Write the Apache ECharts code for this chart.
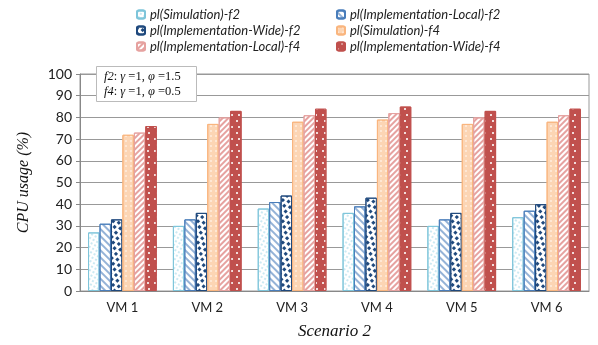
<!DOCTYPE html>
<html>
<head>
<meta charset="utf-8">
<script src="https://cdn.jsdelivr.net/npm/echarts@6/dist/echarts.min.js"></script>
<style>
  html, body { margin: 0; padding: 0; background: #fff; }
  #chart { width: 598px; height: 345px; }
</style>
</head>
<body>
<div id="chart"></div>
<script>
// values
const categories = ["VM 1", "VM 2", "VM 3", "VM 4", "VM 5", "VM 6"];
const simF2 = [27, 30, 38, 36, 30, 34];
const localF2 = [31, 33, 41, 39, 33, 37];
const wideF2 = [33, 36, 44, 43, 36, 40];
const simF4 = [72, 77, 78, 79, 77, 78];
const localF4 = [73, 80, 81, 82, 80, 81];
const wideF4 = [76, 83, 84, 85, 83, 84];
const yTicks = [0, 100, 10];

const names = [
  "pl(Simulation)-f2",
  "pl(Implementation-Local)-f2",
  "pl(Implementation-Wide)-f2",
  "pl(Simulation)-f4",
  "pl(Implementation-Local)-f4",
  "pl(Implementation-Wide)-f4"
];

const looks = [
  { color: "#ffffff", border: "#7ec5da",
    decal: { symbol: "rect", color: "#a9dbea", dashArrayX: [2, 2], dashArrayY: [2, 2], symbolSize: 0.8 } },
  { color: "#ffffff", border: "#4a7ebb",
    decal: { symbol: "rect", color: "#4f81bd", dashArrayX: [1, 0], dashArrayY: [2, 2.5], rotation: Math.PI / 4 } },
  { color: "#ffffff", border: "#1f497d",
    decal: { symbol: "rect", color: "#1f497d", dashArrayX: [[3, 3], [0, 3, 3, 0]], dashArrayY: [3, 2], symbolSize: 1 } },
  { color: "#fcd5b4", border: "#f9b57e",
    decal: { symbol: "rect", color: "#fff3ea", dashArrayX: [1.5, 2.5], dashArrayY: [1.5, 2.5], symbolSize: 0.8 } },
  { color: "#ffffff", border: "#e6a2a0",
    decal: { symbol: "rect", color: "#e6a2a0", dashArrayX: [1, 0], dashArrayY: [2, 2], rotation: -Math.PI / 4 } },
  { color: "#c0504d", border: "#c0504d",
    decal: { symbol: "rect", color: "#f2dcdb", dashArrayX: [[2, 5], [0, 3.5, 2, 1.5]], dashArrayY: [2, 4], symbolSize: 1 } }
];

const values = [simF2, localF2, wideF2, simF4, localF4, wideF4];

const series = values.map((data, i) => ({
  name: names[i],
  type: "bar",
  data: data,
  barGap: "0%",
  barCategoryGap: "19%",
  itemStyle: {
    color: looks[i].color,
    borderColor: looks[i].border,
    borderWidth: 1,
    decal: looks[i].decal
  }
}));

const legendText = { fontFamily: "Lato", fontStyle: "italic", fontSize: 13, color: "#222" };

const option = {
  animation: false,
  aria: { enabled: true, decal: { show: true } },
  legend: [
    {
      orient: "vertical", left: 131, top: 3, itemWidth: 8, itemHeight: 8, itemGap: 3,
      data: [names[0], names[2], names[4]], textStyle: legendText
    },
    {
      orient: "vertical", left: 331, top: 3, itemWidth: 8, itemHeight: 8, itemGap: 3,
      data: [names[1], names[3], names[5]], textStyle: legendText
    }
  ],
  grid: {
    left: 80, right: 9, top: 74, bottom: 54,
    show: true, borderColor: "#999", borderWidth: 1
  },
  xAxis: {
    type: "category",
    data: categories,
    name: "Scenario 2",
    nameLocation: "middle",
    nameGap: 32,
    nameTextStyle: { fontFamily: "Liberation Serif", fontStyle: "italic", fontSize: 17, color: "#111" },
    axisLine: { lineStyle: { color: "#888" } },
    axisTick: { length: 4, lineStyle: { color: "#888" } },
    axisLabel: { fontFamily: "Lato", fontSize: 13, color: "#222", margin: 10 }
  },
  yAxis: {
    type: "value",
    min: yTicks[0],
    max: yTicks[1],
    interval: yTicks[2],
    name: "CPU usage (%)",
    nameLocation: "middle",
    nameGap: 48,
    nameTextStyle: { fontFamily: "Liberation Serif", fontStyle: "italic", fontSize: 16, color: "#111" },
    axisLine: { show: true, lineStyle: { color: "#888" } },
    axisTick: { show: true, length: 4, lineStyle: { color: "#888" } },
    axisLabel: { fontFamily: "Lato", fontSize: 14, color: "#222", margin: 8 },
    splitLine: { lineStyle: { color: "#999" } }
  },
  graphic: [
    {
      type: "rect",
      left: 96, top: 66,
      shape: { width: 100, height: 35 },
      style: { fill: "#fff", stroke: "#bbb", lineWidth: 1 },
      z: 100
    },
    {
      type: "text",
      left: 104, top: 69,
      z: 101,
      style: {
        text: "{i|f2}: {i|γ} =1, {i|φ} =1.5\n{i|f4}: {i|γ} =1, {i|φ} =0.5",
        font: "12.5px 'Liberation Serif'",
        fill: "#111",
        lineHeight: 15,
        rich: {
          i: { fontStyle: "italic", fontFamily: "Liberation Serif", fontSize: 12.5, fill: "#111", lineHeight: 15 }
        }
      }
    }
  ],
  series: series
};

const chart = echarts.init(document.getElementById("chart"));
chart.setOption(option);
</script>
</body>
</html>
